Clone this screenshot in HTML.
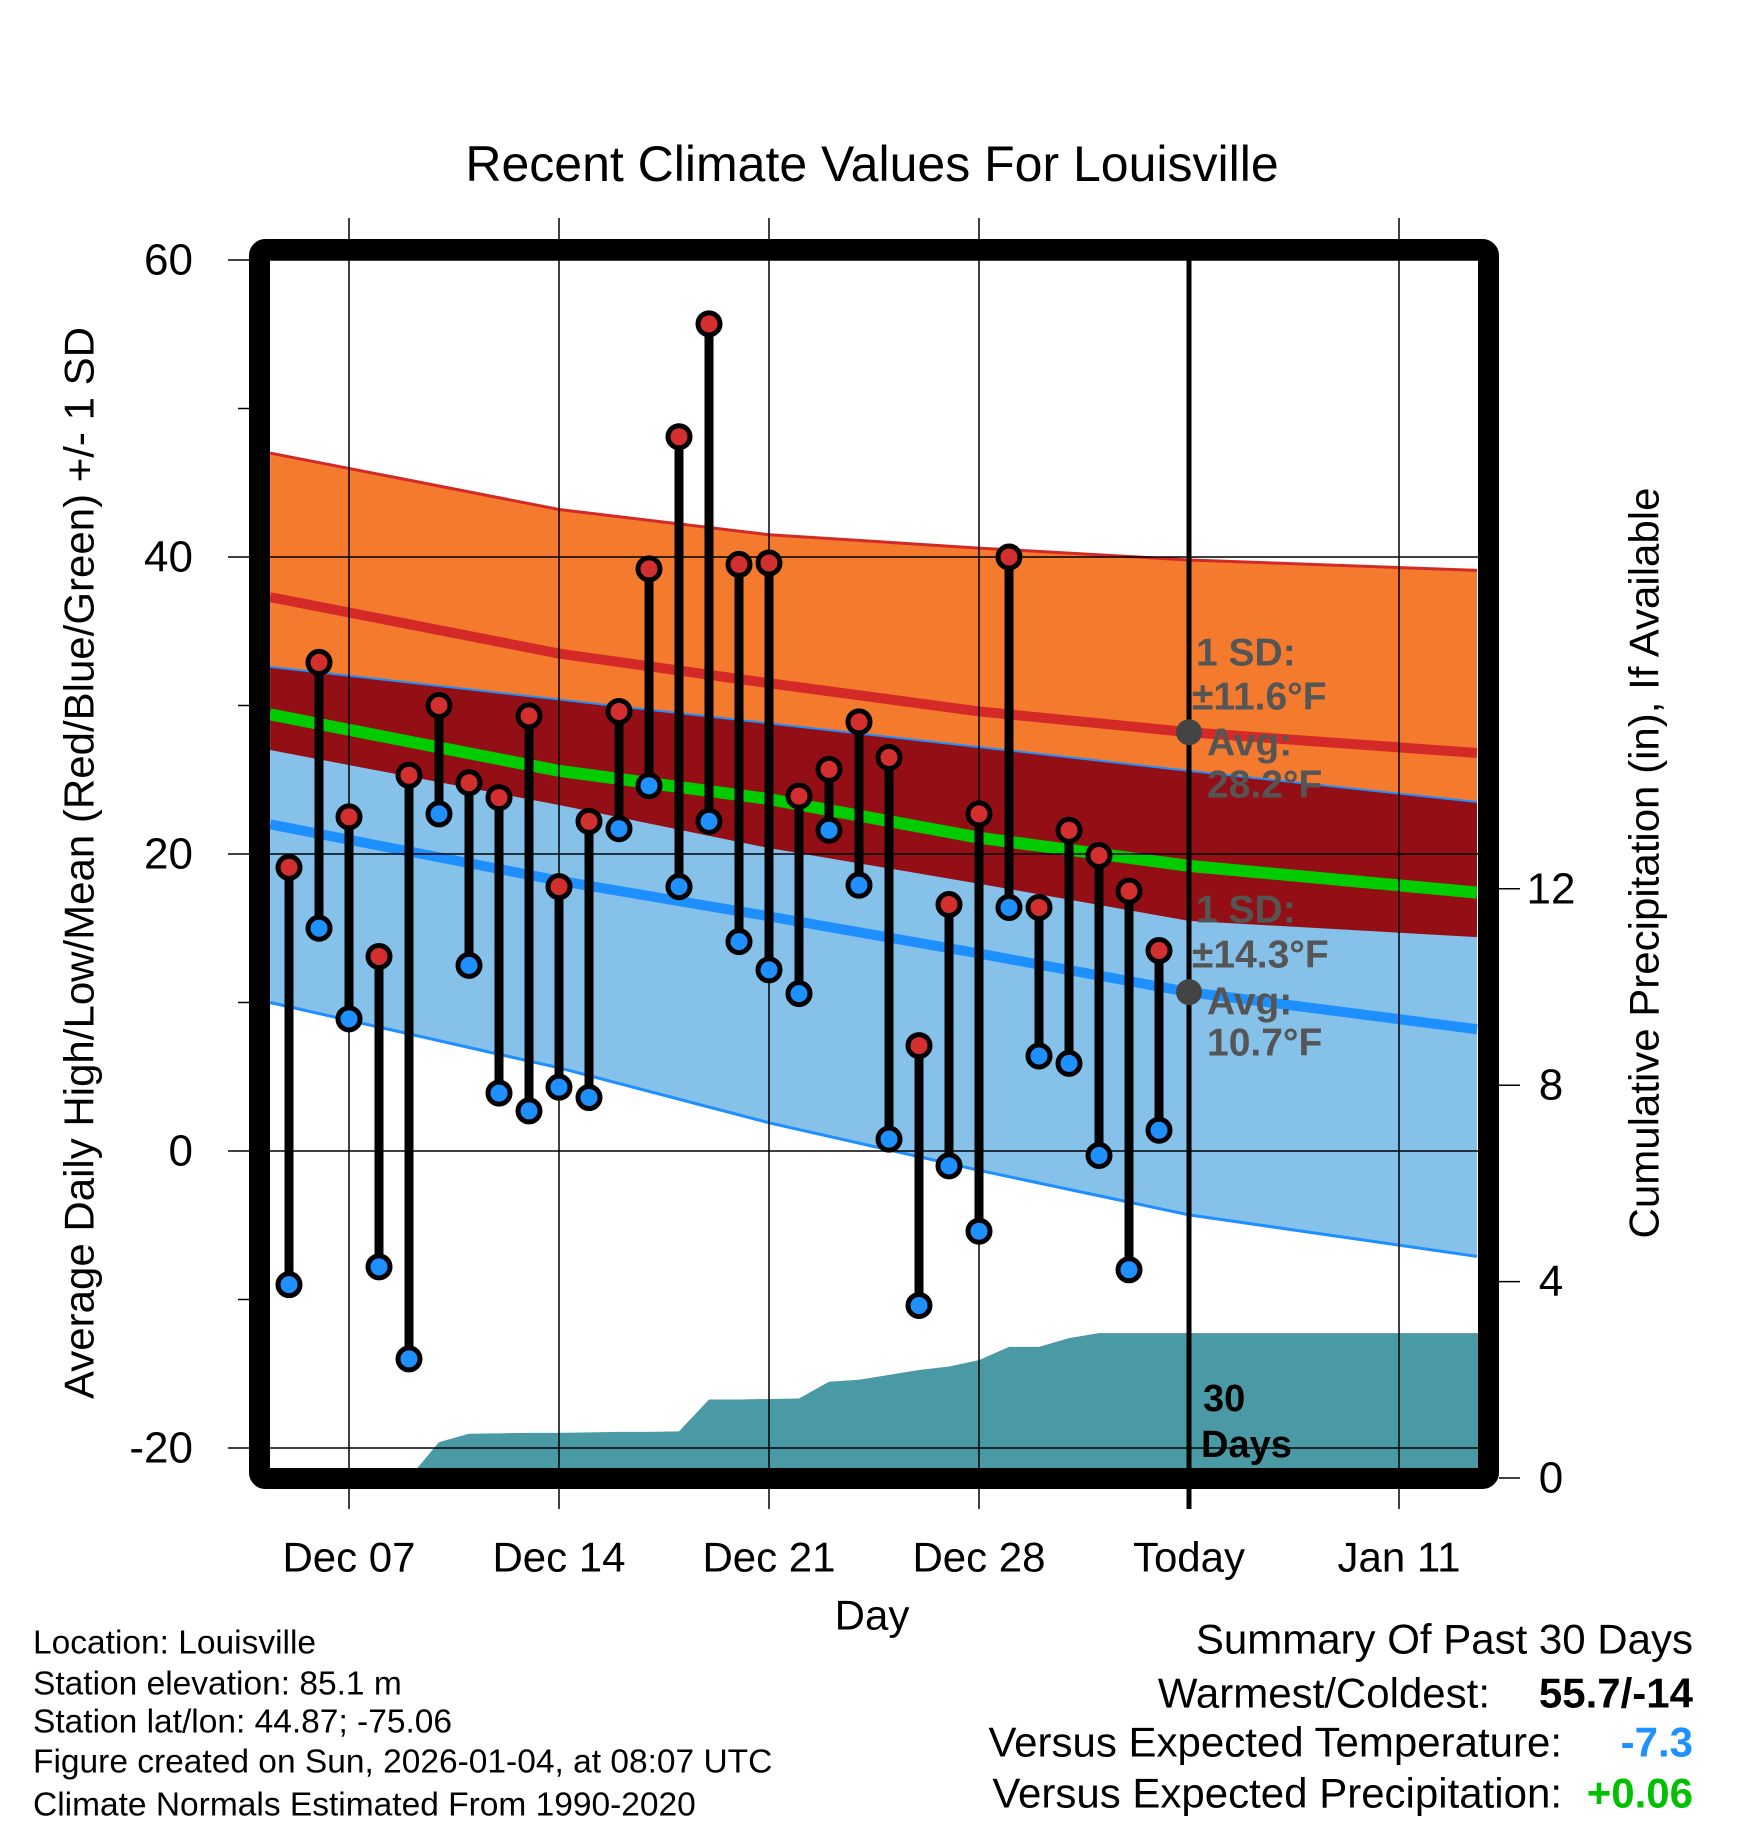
<!DOCTYPE html>
<html><head><meta charset="utf-8"><style>
html,body{margin:0;padding:0;background:#fff;}
svg{display:block;font-family:"Liberation Sans",Arial,sans-serif;}
</style></head><body>
<svg id="chart" width="1748" height="1828" viewBox="0 0 1748 1828" xmlns="http://www.w3.org/2000/svg">
<text x="872" y="164" font-size="50" text-anchor="middle" dominant-baseline="central">Recent Climate Values For Louisville</text>
<g id="bands"></g><g id="precip"></g><g id="grid"></g><g id="marks"></g><g id="annot"></g><g id="axes"></g>
<text transform="translate(79,863) rotate(-90)" font-size="42" text-anchor="middle" dominant-baseline="central">Average Daily High/Low/Mean (Red/Blue/Green) +/- 1 SD</text>
<text transform="translate(1644,863) rotate(-90)" font-size="42" text-anchor="middle" dominant-baseline="central">Cumulative Precipitation (in), If Available</text>
<text x="872" y="1615" font-size="42" text-anchor="middle" dominant-baseline="central">Day</text>
<g font-size="33.5">
<text x="33" y="1643" dominant-baseline="central">Location: Louisville</text>
<text x="33" y="1684" dominant-baseline="central">Station elevation: 85.1 m</text>
<text x="33" y="1722" dominant-baseline="central">Station lat/lon: 44.87; -75.06</text>
<text x="33" y="1762" dominant-baseline="central">Figure created on Sun, 2026-01-04, at 08:07 UTC</text>
<text x="33" y="1805" dominant-baseline="central">Climate Normals Estimated From 1990-2020</text>
</g>
<g font-size="42">
<text x="1693" y="1639" text-anchor="end" dominant-baseline="central">Summary Of Past 30 Days</text>
<text x="1490" y="1693" text-anchor="end" dominant-baseline="central">Warmest/Coldest:</text>
<text x="1693" y="1693" text-anchor="end" dominant-baseline="central" font-weight="bold">55.7/-14</text>
<text x="1562" y="1742" text-anchor="end" dominant-baseline="central">Versus Expected Temperature:</text>
<text x="1693" y="1742" text-anchor="end" dominant-baseline="central" font-weight="bold" fill="#1e90ff">-7.3</text>
<text x="1562" y="1793" text-anchor="end" dominant-baseline="central">Versus Expected Precipitation:</text>
<text x="1693" y="1793" text-anchor="end" dominant-baseline="central" font-weight="bold" fill="#00c000">+0.06</text>
</g>
</svg>
<script>
// day offsets are relative to Dec 07
const highs=[19.1,32.9,22.5,13.1,25.3,30.0,24.8,23.8,29.3,17.8,22.2,29.6,39.2,48.1,55.7,39.5,39.6,23.9,25.7,28.9,26.5,7.1,16.6,22.7,40.0,16.4,21.6,19.9,17.5,13.5];
const lows=[-9.0,15.0,8.9,-7.8,-14.0,22.7,12.5,3.9,2.7,4.3,3.6,21.7,24.6,17.8,22.2,14.1,12.2,10.6,21.6,17.9,0.8,-10.4,-1.0,-5.4,16.4,6.4,5.9,-0.3,-8.0,1.4];
const precipCum=[0,0,0,0,0,0.73,0.9,0.91,0.92,0.92,0.93,0.94,0.94,0.95,1.6,1.6,1.61,1.62,1.96,2.0,2.1,2.2,2.27,2.4,2.67,2.67,2.85,2.95,2.95,2.95];
const normDays=[-2.63,7,14,21,28,37.6];
const hiUpper=[47.0,43.2,41.5,40.6,39.8,39.1];
const hiMean=[37.3,33.5,31.5,29.6,28.2,26.8];
const hiLower=[27.0,23.3,20.4,18.0,15.5,14.4];
const loUpper=[32.6,30.4,28.8,27.2,25.6,23.5];
const avgMean=[29.4,25.6,23.7,21.1,19.2,17.4];
const loMean=[22.0,18.2,15.8,13.3,10.7,8.2];
const loLower=[10.0,5.6,1.9,-1.3,-4.3,-7.1];
const xTickDays=[0,7,14,21,28,35];
const xTickLabels=["Dec 07","Dec 14","Dec 21","Dec 28","Today","Jan 11"];
const yTicks=[60,40,20,0,-20];
const yMinor=[50,30,10,-10];
const pTicks=[0,4,8,12];
const firstDay=-2; // Dec 05

const NS="http://www.w3.org/2000/svg";
const X=d=>349+d*30;
const Y=t=>1151-t*14.85;
const P=v=>1478-v*49.1;
const L=270,R=1478,T=260,B=1468;
function mk(parent,tag,attrs){const e=document.createElementNS(NS,tag);for(const k in attrs)e.setAttribute(k,attrs[k]);document.getElementById(parent).appendChild(e);return e;}
function pts(a){return normDays.map((d,i)=>X(d)+","+Y(a[i])).join(" ");}
function band(a,b){return normDays.map((d,i)=>X(d)+","+Y(a[i])).concat(normDays.slice().reverse().map((d,j)=>X(d)+","+Y(b[b.length-1-j]))).join(" ");}

let e;
e=mk('bands','polygon',{points:band(hiUpper,hiLower),fill:'#f47a2e'});


e=mk('bands','polygon',{points:band(loUpper,loLower),fill:'#85c1e8'});


e=mk('bands','polygon',{points:band(loUpper,hiLower),fill:'#930f15'});


const lines=[[hiUpper,'#d42a27',3,'high-upper-line'],[hiMean,'#d42a27',10,'high-mean-line'],[loUpper,'#1e8fff',2,'low-upper-line'],[avgMean,'#00cc00',12,'mean-line'],[loMean,'#1e8fff',10,'low-mean-line'],[loLower,'#1e8fff',3,'low-lower-line']];
lines.forEach(l=>{
  const p=mk('bands','polyline',{points:pts(l[0]),fill:'none',stroke:l[1],'stroke-width':l[2]});
  
  
});

// precipitation
let start=0;while(start<precipCum.length-1&&precipCum[start+1]===0)start++;
let pp=[];
for(let i=start;i<precipCum.length;i++)pp.push(X(firstDay+i)+","+P(precipCum[i]));
pp.push(R+","+P(precipCum[precipCum.length-1]));
pp.push(R+","+B);pp.push(X(firstDay+start)+","+B);
e=mk('precip','polygon',{points:pp.join(" "),fill:'#4a9aa5'});



// grid
xTickDays.forEach((d,i)=>{
  const g=mk('grid','line',{x1:X(d),x2:X(d),y1:d===28?255:218,y2:1509,stroke:'#000','stroke-width':d===28?5:1.5});
  
  
  const t=mk('axes','text',{x:X(d),y:1557,'font-size':42,'text-anchor':'middle','dominant-baseline':'central'});
  t.textContent=xTickLabels[i];
  
  
});
yTicks.forEach(v=>{
  const g=mk('grid','line',{x1:228,x2:R,y1:Y(v),y2:Y(v),stroke:'#000','stroke-width':1.5});
  
  
  const t=mk('axes','text',{x:193,y:Y(v),'font-size':44,'text-anchor':'end','dominant-baseline':'central'});
  t.textContent=v;
  
  
});
yMinor.forEach(v=>{
  const g=mk('axes','line',{x1:238,x2:250,y1:Y(v),y2:Y(v),stroke:'#000','stroke-width':1.5});
  
  
});
pTicks.forEach(v=>{
  const g=mk('axes','line',{x1:1499,x2:1520,y1:P(v),y2:P(v),stroke:'#000','stroke-width':1.5});
  
  
  const t=mk('axes','text',{x:1551,y:P(v),'font-size':44,'text-anchor':'middle','dominant-baseline':'central'});
  t.textContent=v;
  
  
});

// marks
highs.forEach((h,i)=>{
  const x=X(firstDay+i);
  const s=mk('marks','line',{x1:x,x2:x,y1:Y(h),y2:Y(lows[i]),stroke:'#000','stroke-width':9});
  
  
});
highs.forEach((h,i)=>{
  const x=X(firstDay+i);
  const c1=mk('marks','circle',{cx:x,cy:Y(h),r:11,fill:'#d32f2f',stroke:'#000','stroke-width':5});
  
  
  const c2=mk('marks','circle',{cx:x,cy:Y(lows[i]),r:11,fill:'#1e90ff',stroke:'#000','stroke-width':5});
  
  
});

// today annotations
const todayX=X(28);
[[hiMean[4],'hi'],[loMean[4],'lo']].forEach(a=>{
  const c=mk('annot','circle',{cx:todayX,cy:Y(a[0]),r:13,fill:'#444'});
  
  
});
const annHi=[["1 SD:",1196,653],["±11.6°F",1192,697],["Avg:",1207,743],["28.2°F",1207,785]];
const annLo=[["1 SD:",1196,910],["±14.3°F",1192,955],["Avg:",1207,1002],["10.7°F",1207,1043]];
annHi.concat(annLo).forEach(a=>{
  const t=mk('annot','text',{x:a[1],y:a[2],'font-size':39,'font-weight':'bold',fill:'#555','dominant-baseline':'central'});
  t.textContent=a[0];
  
  
});
const d1=mk('annot','text',{x:1203,y:1399,'font-size':38,'font-weight':'bold','dominant-baseline':'central'});
d1.textContent="30";


const d2=mk('annot','text',{x:1201,y:1445,'font-size':38,'font-weight':'bold','dominant-baseline':'central'});
d2.textContent="Days";



// frame
const fr=mk('axes','rect',{x:259.5,y:249.5,width:1229,height:1229,rx:6,fill:'none',stroke:'#000','stroke-width':21});


</script>
</body></html>
